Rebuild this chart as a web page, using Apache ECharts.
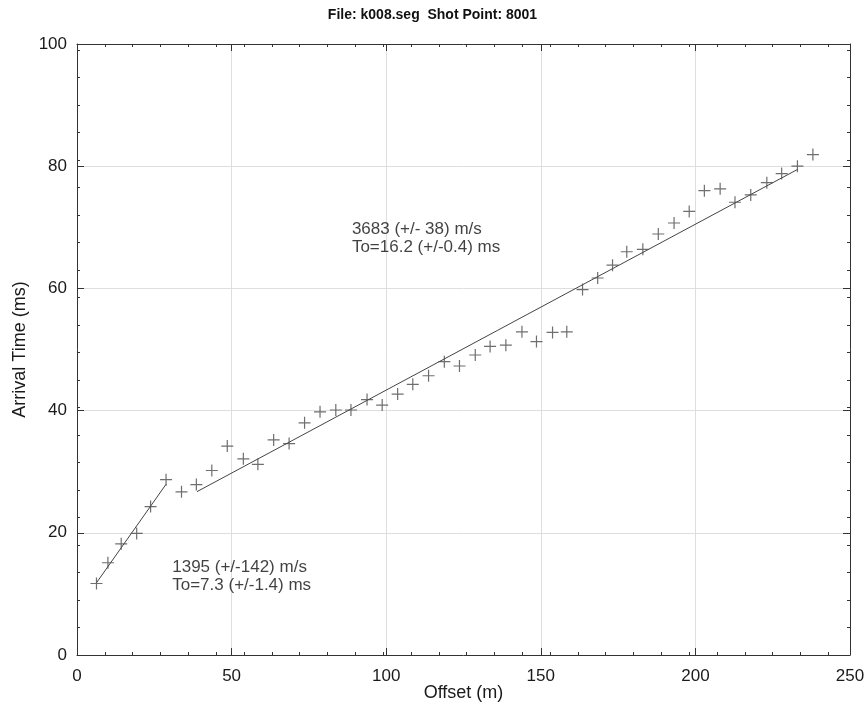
<!DOCTYPE html>
<html>
<head>
<meta charset="utf-8">
<title>k008.seg first arrivals</title>
<script src="https://cdn.jsdelivr.net/npm/echarts@6/dist/echarts.min.js"></script>
<style>
  html, body { margin: 0; padding: 0; background: #fff; }
  #chart { width: 865px; height: 706px; }
</style>
</head>
<body>
<div id="chart"></div>
<script>
// Picked first-arrival times for shot point 8001
const offsets = [6.3, 10.0, 14.3, 19.3, 23.8, 28.8, 33.8, 38.6, 43.6, 48.6, 53.8, 58.5,
  63.6, 68.6, 73.6, 78.6, 83.7, 88.6, 93.8, 98.7, 103.7, 108.6, 113.7, 118.8,
  123.7, 128.8, 133.6, 138.7, 143.9, 148.6, 153.8, 158.4, 163.5, 168.4, 173.2, 177.8,
  183.0, 188.0, 193.1, 198.0, 202.9, 208.0, 212.8, 217.9, 223.1, 227.9, 233.0, 238.0];
const arrivalTimes = [11.7, 15.1, 18.2, 19.9, 24.3, 28.7, 26.7, 27.9, 30.2, 34.2, 32.1, 31.2,
  35.2, 34.6, 38.0, 39.8, 40.1, 40.1, 41.8, 40.9, 42.7, 44.3, 45.7, 48.0,
  47.3, 49.1, 50.5, 50.7, 52.9, 51.3, 52.8, 52.9, 59.8, 61.7, 63.8, 66.0,
  66.4, 68.9, 70.7, 72.6, 76.0, 76.3, 74.1, 75.3, 77.3, 78.8, 80.0, 81.9];

// Two-layer refraction fit: velocity (m/s), intercept time (ms) and offset span of each segment
const fitVelocity = [1395, 3683];
const fitVelocityErr = ['-142', '- 38'];
const fitIntercept = [7.3, 16.2];
const fitInterceptErr = ['-1.4', '-0.4'];
const fitStart = [6.3, 38.8];
const fitEnd = [28.8, 233.0];

// Where each fit's annotation sits (offset m, time ms)
const noteAnchors = [[30.8, 12.9], [88.9, 68.2]];

// Axis ticks
const xMajor = 50, xMinor = 9;
const yMajor = 20, yMinor = 4.5;

const FONT = '"Liberation Sans", Arial, sans-serif';
const TEXT = '#1a1a1a';
const AXIS = '#333';

const picks = offsets.map((x, i) => [x, arrivalTimes[i]]);

function fitLine(k) {
  const slope = 1000 / fitVelocity[k];
  return [fitStart[k], fitEnd[k]].map(x => [x, fitIntercept[k] + slope * x]);
}

function noteText(k) {
  return fitVelocity[k] + ' (+/' + fitVelocityErr[k] + ') m/s\n' +
    'To=' + fitIntercept[k].toFixed(1) + ' (+/' + fitInterceptErr[k] + ') ms';
}

function frameAxis(pos, interval, len, isMain, extra) {
  return Object.assign({
    type: 'value',
    position: pos,
    min: 0,
    interval: interval,
    axisLine: { show: isMain, onZero: false, lineStyle: { color: AXIS, width: 1 } },
    axisTick: { show: true, inside: true, length: len, lineStyle: { color: AXIS, width: 1 } },
    axisLabel: { show: false },
    splitLine: { show: false }
  }, extra);
}

const chart = echarts.init(document.getElementById('chart'), null, { renderer: 'canvas' });

chart.setOption({
  backgroundColor: '#fff',
  animation: false,
  textStyle: { fontFamily: FONT },
  title: {
    text: 'File: k008.seg  Shot Point: 8001',
    left: 'center',
    top: 3,
    textStyle: { fontFamily: FONT, fontSize: 14, fontWeight: 'bold', color: '#111' }
  },
  grid: { left: 77, right: 15, top: 44, bottom: 51, containLabel: false, outerBoundsMode: 'none' },
  xAxis: [
    frameAxis('bottom', xMajor, 7, true, {
      max: 250,
      name: 'Offset (m)',
      nameLocation: 'middle',
      nameGap: 29,
      nameMoveOverlap: false,
      nameTextStyle: { fontFamily: FONT, fontSize: 18, color: TEXT },
      axisLabel: { show: true, fontFamily: FONT, fontSize: 17, color: TEXT, margin: 13 },
      splitLine: { show: true, lineStyle: { color: '#dedede', width: 1 } }
    }),
    frameAxis('bottom', xMinor, 3, false, { max: 250 }),
    frameAxis('top', xMajor, 7, true, { max: 250 }),
    frameAxis('top', xMinor, 3, false, { max: 250 })
  ],
  yAxis: [
    frameAxis('left', yMajor, 7, true, {
      max: 100,
      name: 'Arrival Time (ms)',
      nameLocation: 'middle',
      nameGap: 48,
      nameMoveOverlap: false,
      nameTextStyle: { fontFamily: FONT, fontSize: 18, color: TEXT },
      axisLabel: { show: true, fontFamily: FONT, fontSize: 17, color: TEXT, margin: 10 },
      splitLine: { show: true, lineStyle: { color: '#dedede', width: 1 } }
    }),
    frameAxis('left', yMinor, 3, false, { max: 100 }),
    frameAxis('right', yMajor, 7, true, { max: 100 }),
    frameAxis('right', yMinor, 3, false, { max: 100 })
  ],
  series: [
    {
      name: 'picks',
      type: 'scatter',
      xAxisIndex: 0,
      yAxisIndex: 0,
      data: picks,
      symbol: 'path://M0,5L10,5M5,0L5,10',
      symbolSize: 12,
      itemStyle: { color: 'transparent', borderColor: '#4a4a4a', borderWidth: 1.2 },
      z: 3
    },
    ...[0, 1].map(k => ({
      name: 'fit' + (k + 1),
      type: 'line',
      xAxisIndex: 0,
      yAxisIndex: 0,
      data: fitLine(k),
      showSymbol: false,
      lineStyle: { color: '#444', width: 1 },
      z: 2
    })),
    {
      name: 'notes',
      type: 'scatter',
      xAxisIndex: 0,
      yAxisIndex: 0,
      data: noteAnchors.map((p, k) => ({ value: p, note: noteText(k) })),
      symbolSize: 0,
      silent: true,
      label: {
        show: true,
        position: [0, 0],
        align: 'left',
        verticalAlign: 'middle',
        fontFamily: FONT,
        fontSize: 17,
        lineHeight: 18,
        color: '#111',
        formatter: p => p.data.note
      },
      z: 4
    }
  ]
});
</script>
</body>
</html>
